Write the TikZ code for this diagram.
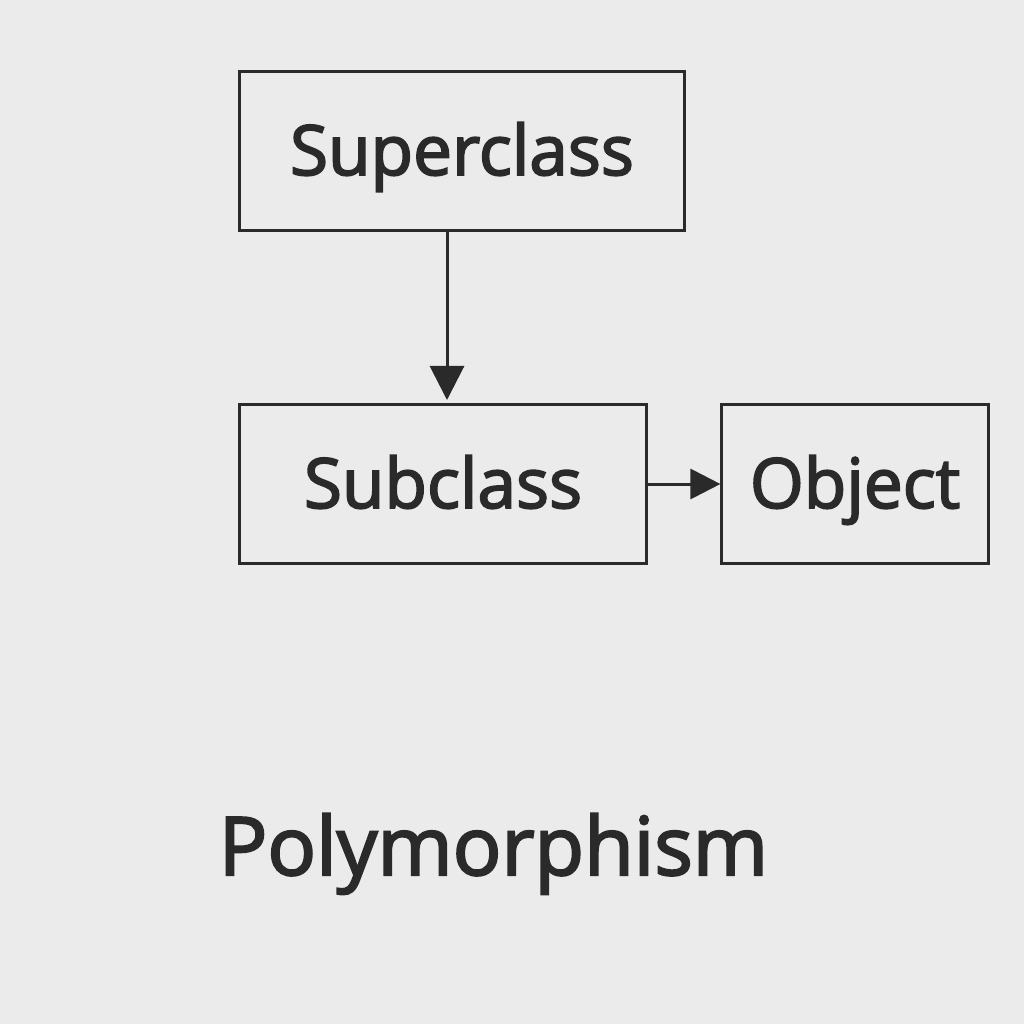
\documentclass[tikz,border=0pt]{standalone}
\usepackage{fontspec}
\setmainfont{Open Sans}[FakeBold=2.6]
\usetikzlibrary{arrows.meta}
\definecolor{bg}{HTML}{EBEBEB}
\definecolor{ink}{HTML}{2A2A2A}
\begin{document}
\begin{tikzpicture}[x=0.01cm,y=-0.01cm,
  box/.style={draw=ink,line width=0.03cm,inner sep=0pt,minimum height=1.58cm,text=ink,text height=0.58cm,text depth=0.1cm,font=\fontsize{19.7}{24}\selectfont},
  conn/.style={draw=ink,line width=0.03cm,-{Triangle[length=0.34cm,width=0.34cm]}}]
\fill[bg] (0,0) rectangle (1024,1024);
\useasboundingbox (0,0) rectangle (1024,1024);
\node[box,minimum width=4.44cm] (sup) at (462,151) {Superclass};
\node[box,minimum width=4.06cm] (sub) at (443,484) {Subclass};
\node[box,minimum width=2.66cm] (obj) at (855,484) {Object};
\draw[conn] (sup.south -| 447,0) -- (447,400) coordinate (subtop);
\draw[draw=ink,line width=0.03cm,-{Triangle[length=0.30cm,width=0.30cm]}] (sub.east) -- (obj.west);
\node[text=ink,font=\fontsize{23}{28}\selectfont,anchor=base west,inner sep=0pt] (title) at (218,875) {Polymorphism};
\end{tikzpicture}
\end{document}
